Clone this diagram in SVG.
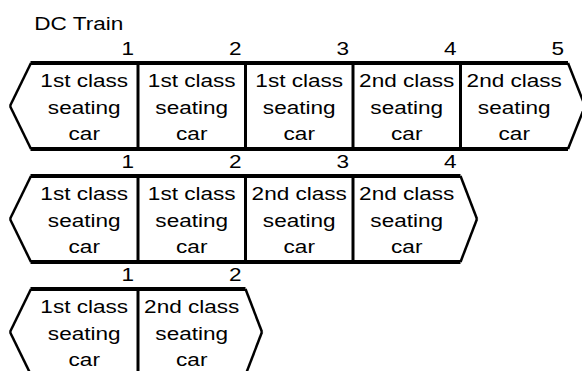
<svg xmlns="http://www.w3.org/2000/svg" width="582" height="371" viewBox="0 0 582 371">
<style>
.h{stroke:#000;stroke-width:4;fill:none}
.v{stroke:#000;stroke-width:3;fill:none}
.c{stroke:#000;stroke-width:2.5;fill:none}
text{font-family:"Liberation Sans",Arial,sans-serif;font-size:18.5px;fill:#000}
.m{text-anchor:middle}
.n{text-anchor:end}
</style>
<rect width="582" height="371" fill="#fff"/>
<g id="title"><text transform="scale(1.22,1)" x="28.1" y="30">DC Train</text></g>

<g id="train1">
  <line class="h" x1="30.5" y1="63" x2="568" y2="63"/>
  <line class="h" x1="30.5" y1="149" x2="568" y2="149"/>
  <line class="c" x1="31" y1="63" x2="10" y2="106"/>
  <line class="c" x1="10" y1="106" x2="31" y2="149"/>
  <line class="c" x1="568" y1="63" x2="585" y2="106"/>
  <line class="c" x1="585" y1="106" x2="568" y2="149"/>
  <line class="v" x1="138" y1="63" x2="138" y2="149"/>
  <line class="v" x1="245.5" y1="63" x2="245.5" y2="149"/>
  <line class="v" x1="353" y1="63" x2="353" y2="149"/>
  <line class="v" x1="460.5" y1="63" x2="460.5" y2="149"/>
  <g transform="scale(1.22,1)">
    <g id="t1c1"><text class="n" x="109.84" y="55">1</text><text class="m" x="69.06" y="87.5">1st class</text><text class="m" x="69.06" y="113.7">seating</text><text class="m" x="69.06" y="140">car</text></g>
    <g id="t1c2"><text class="n" x="197.95" y="55">2</text><text class="m" x="157.17" y="87.5">1st class</text><text class="m" x="157.17" y="113.7">seating</text><text class="m" x="157.17" y="140">car</text></g>
    <g id="t1c3"><text class="n" x="286.07" y="55">3</text><text class="m" x="245.29" y="87.5">1st class</text><text class="m" x="245.29" y="113.7">seating</text><text class="m" x="245.29" y="140">car</text></g>
    <g id="t1c4"><text class="n" x="374.18" y="55">4</text><text class="m" x="333.40" y="87.5">2nd class</text><text class="m" x="333.40" y="113.7">seating</text><text class="m" x="333.40" y="140">car</text></g>
    <g id="t1c5"><text class="n" x="462.30" y="55">5</text><text class="m" x="421.52" y="87.5">2nd class</text><text class="m" x="421.52" y="113.7">seating</text><text class="m" x="421.52" y="140">car</text></g>
  </g>
</g>

<g id="train2">
  <line class="h" x1="30.5" y1="176" x2="460.5" y2="176"/>
  <line class="h" x1="30.5" y1="262" x2="460.5" y2="262"/>
  <line class="c" x1="31" y1="176" x2="10" y2="219"/>
  <line class="c" x1="10" y1="219" x2="31" y2="262"/>
  <line class="c" x1="460.5" y1="176" x2="477" y2="219"/>
  <line class="c" x1="477" y1="219" x2="460.5" y2="262"/>
  <line class="v" x1="138" y1="176" x2="138" y2="262"/>
  <line class="v" x1="245.5" y1="176" x2="245.5" y2="262"/>
  <line class="v" x1="353" y1="176" x2="353" y2="262"/>
  <g transform="scale(1.22,1)">
    <g id="t2c1"><text class="n" x="109.84" y="168">1</text><text class="m" x="69.06" y="200.5">1st class</text><text class="m" x="69.06" y="226.7">seating</text><text class="m" x="69.06" y="253">car</text></g>
    <g id="t2c2"><text class="n" x="197.95" y="168">2</text><text class="m" x="157.17" y="200.5">1st class</text><text class="m" x="157.17" y="226.7">seating</text><text class="m" x="157.17" y="253">car</text></g>
    <g id="t2c3"><text class="n" x="286.07" y="168">3</text><text class="m" x="245.29" y="200.5">2nd class</text><text class="m" x="245.29" y="226.7">seating</text><text class="m" x="245.29" y="253">car</text></g>
    <g id="t2c4"><text class="n" x="374.18" y="168">4</text><text class="m" x="333.40" y="200.5">2nd class</text><text class="m" x="333.40" y="226.7">seating</text><text class="m" x="333.40" y="253">car</text></g>
  </g>
</g>

<g id="train3">
  <line class="h" x1="30.5" y1="289" x2="245.5" y2="289"/>
  <line class="h" x1="30.5" y1="375" x2="245.5" y2="375"/>
  <line class="c" x1="31" y1="289" x2="10" y2="332"/>
  <line class="c" x1="10" y1="332" x2="31" y2="375"/>
  <line class="c" x1="245.5" y1="289" x2="262" y2="332"/>
  <line class="c" x1="262" y1="332" x2="245.5" y2="375"/>
  <line class="v" x1="138" y1="289" x2="138" y2="375"/>
  <g transform="scale(1.22,1)">
    <g id="t3c1"><text class="n" x="109.84" y="281">1</text><text class="m" x="69.06" y="313.5">1st class</text><text class="m" x="69.06" y="339.7">seating</text><text class="m" x="69.06" y="366">car</text></g>
    <g id="t3c2"><text class="n" x="197.95" y="281">2</text><text class="m" x="157.17" y="313.5">2nd class</text><text class="m" x="157.17" y="339.7">seating</text><text class="m" x="157.17" y="366">car</text></g>
  </g>
</g>

<g id="connectors"></g>
</svg>
